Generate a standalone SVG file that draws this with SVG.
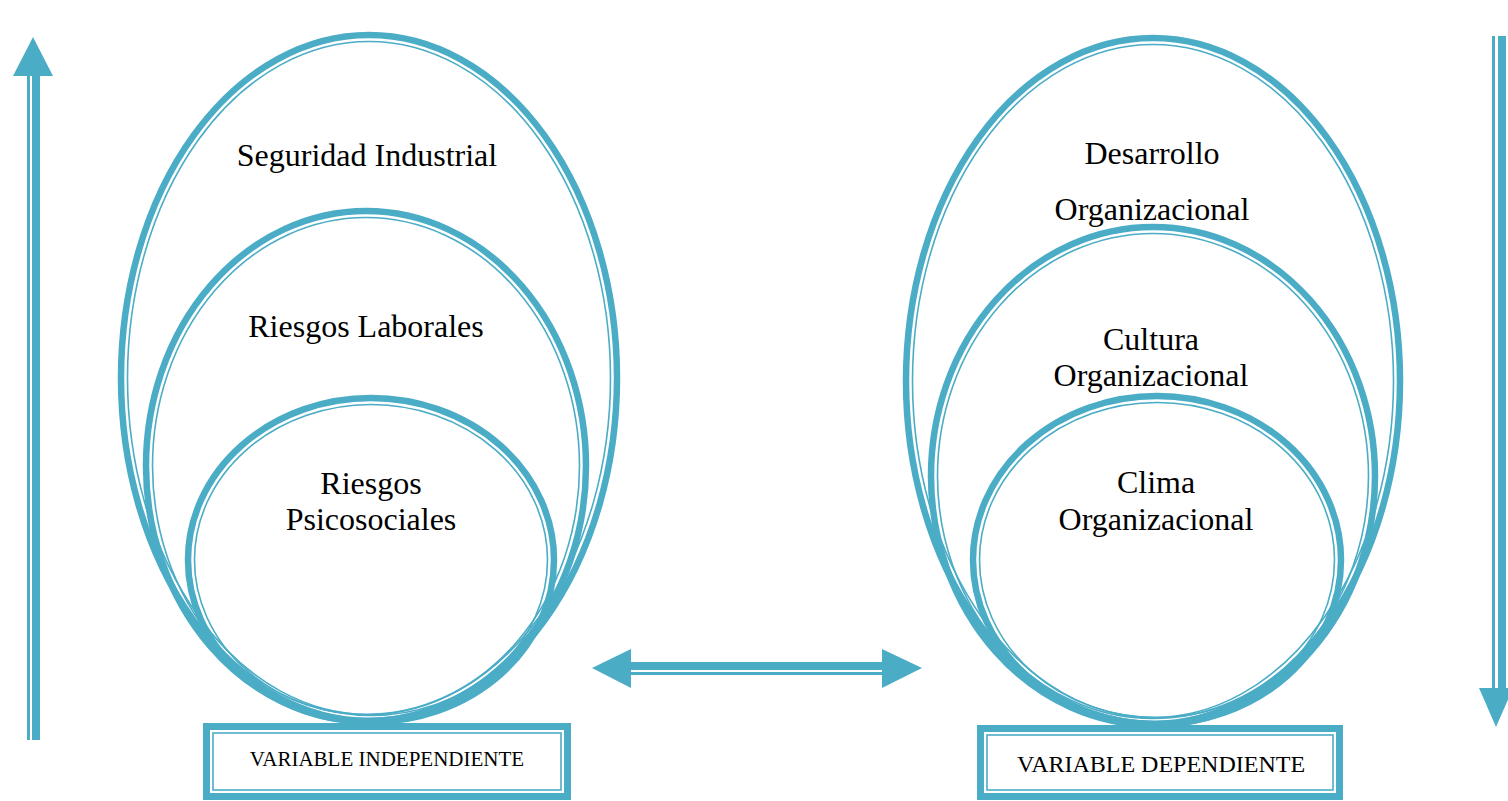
<svg xmlns="http://www.w3.org/2000/svg" width="1508" height="801" viewBox="0 0 1508 801">
  <style>
    .thick { fill: none; stroke: #4BACC6; stroke-width: 6.5; }
    .thin { fill: none; stroke: #4BACC6; stroke-width: 1.6; }
    .fillw { fill: #FFFFFF; }
    .blue { fill: #4BACC6; }
    .lbl { font-family: "Liberation Serif", "Times New Roman", serif; font-size: 32px; fill: #000; text-anchor: middle; }
    .var { font-family: "Liberation Serif", "Times New Roman", serif; fill: #000; text-anchor: middle; }
  </style>

  <!-- vertical arrows and the link between the two variables -->
  <g id="connectors">
    <!-- left: upward arrow (thin + thick shaft) -->
    <rect class="blue" x="27" y="74" width="3" height="666"/>
    <rect class="blue" x="32" y="74" width="8" height="666"/>
    <polygon class="blue" points="33,37 53,76 13,76"/>
    <!-- right: downward arrow -->
    <rect class="blue" x="1492" y="36" width="3" height="654"/>
    <rect class="blue" x="1498" y="36" width="8" height="654"/>
    <polygon class="blue" points="1479,688 1513,688 1496,727"/>
    <!-- two-headed arrow between the groups -->
    <rect class="blue" x="628" y="662" width="258" height="8"/>
    <rect class="blue" x="628" y="672" width="258" height="3"/>
    <polygon class="blue" points="592,668 631,649 631,688"/>
    <polygon class="blue" points="922,668 882,649 882,688"/>
  </g>

  <!-- independent variable group -->
  <g id="seguridad-industrial">
    <ellipse class="thick" cx="369" cy="378" rx="248" ry="343"/>
    <ellipse class="thin" cx="369" cy="378" rx="241.5" ry="336.5"/>
    <text class="lbl" x="367" y="166">Seguridad Industrial</text>
  </g>
  <g id="riesgos-laborales">
    <ellipse class="thick" cx="366" cy="466" rx="220" ry="255"/>
    <ellipse class="thin" cx="366" cy="466" rx="213.5" ry="248.5"/>
    <text class="lbl" x="366" y="337">Riesgos Laborales</text>
  </g>
  <g id="riesgos-psicosociales">
    <ellipse class="thick" cx="371" cy="560" rx="183" ry="162"/>
    <ellipse class="thin" cx="371" cy="560" rx="176.5" ry="155.5"/>
    <text class="lbl" x="371" y="494">Riesgos</text>
    <text class="lbl" x="371" y="530">Psicosociales</text>
  </g>
  <g id="variable-independiente">
    <rect class="fillw" x="203" y="723" width="368" height="77"/>
    <rect class="thick" x="206.5" y="726.5" width="361" height="70" style="stroke-width:7"/>
    <rect class="thin" x="213" y="733" width="348" height="57"/>
    <text class="var" x="387" y="766" font-size="21">VARIABLE INDEPENDIENTE</text>
  </g>

  <!-- dependent variable group -->
  <g id="desarrollo-organizacional">
    <ellipse class="thick" cx="1153" cy="381" rx="247" ry="343"/>
    <ellipse class="thin" cx="1153" cy="381" rx="240.5" ry="336.5"/>
    <text class="lbl" x="1152" y="164">Desarrollo</text>
    <text class="lbl" x="1152" y="220">Organizacional</text>
  </g>
  <g id="cultura-organizacional">
    <ellipse class="thick" cx="1153" cy="476" rx="222" ry="249"/>
    <ellipse class="thin" cx="1153" cy="476" rx="215.5" ry="242.5"/>
    <text class="lbl" x="1151" y="350">Cultura</text>
    <text class="lbl" x="1151" y="386">Organizacional</text>
  </g>
  <g id="clima-organizacional">
    <ellipse class="thick" cx="1157" cy="560" rx="184" ry="164"/>
    <ellipse class="thin" cx="1157" cy="560" rx="177.5" ry="157.5"/>
    <text class="lbl" x="1156" y="493">Clima</text>
    <text class="lbl" x="1156" y="530">Organizacional</text>
  </g>
  <g id="variable-dependiente">
    <rect class="fillw" x="977" y="725" width="366" height="75"/>
    <rect class="thick" x="980.5" y="728.5" width="359" height="68" style="stroke-width:7"/>
    <rect class="thin" x="987" y="735" width="346" height="55"/>
    <text class="var" x="1161" y="772" font-size="24">VARIABLE DEPENDIENTE</text>
  </g>
</svg>
